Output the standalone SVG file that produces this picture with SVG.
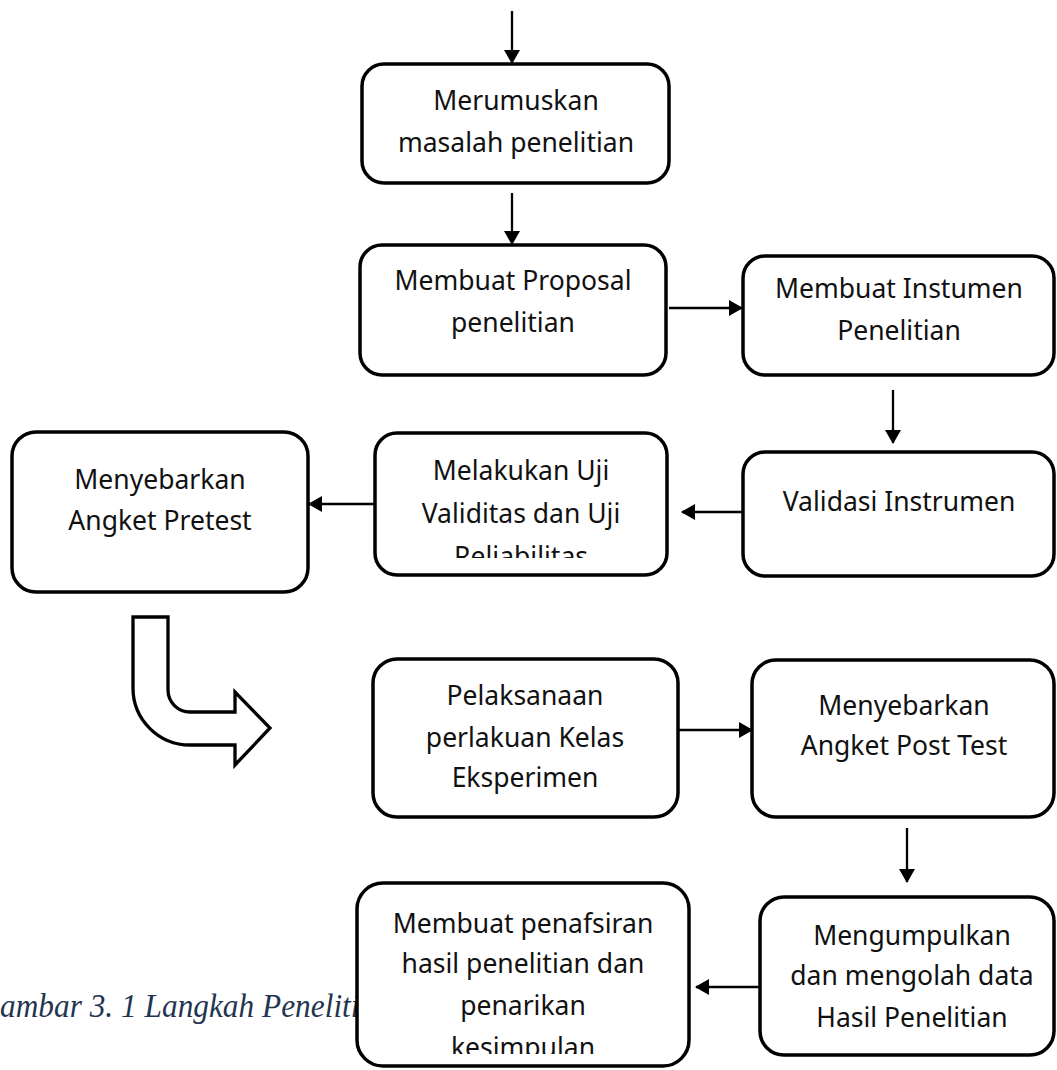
<svg xmlns="http://www.w3.org/2000/svg" width="1057" height="1070" viewBox="0 0 1057 1070">
<style>
.box{fill:#fff;stroke:#000;stroke-width:3.5}
.t{font-family:"Noto Sans","Open Sans",sans-serif;font-size:26.5px;fill:#111;text-anchor:middle}
.c{stroke:#000;stroke-width:2.3;fill:none;marker-end:url(#ah)}
.cap{font-family:"Liberation Serif","Times New Roman",serif;font-style:italic;font-size:33px;fill:#1f3550}
</style>
<defs>
<marker id="ah" viewBox="0 0 14 16" refX="13" refY="8" markerWidth="14" markerHeight="16" markerUnits="userSpaceOnUse" orient="auto">
<path d="M0,0 L14,8 L0,16 Z" fill="#000"/>
</marker>
<clipPath id="clipMel"><rect x="375" y="433" width="292" height="125"/></clipPath>
<clipPath id="clipPen"><rect x="357" y="883" width="332" height="171"/></clipPath>
</defs>
<rect width="1057" height="1070" fill="#fff"/>
<text class="cap" transform="scale(0.95,1)" x="-23.8" y="1017">Gambar 3. 1 Langkah Penelitian</text>
<g id="connectors">
<line class="c" x1="512" y1="11" x2="512" y2="63"/>
<line class="c" x1="512" y1="193" x2="512" y2="244"/>
<line class="c" x1="669" y1="308" x2="742" y2="308"/>
<line class="c" x1="893" y1="390" x2="893" y2="443"/>
<line class="c" x1="743" y1="512" x2="682" y2="512"/>
<line class="c" x1="375" y1="504" x2="309" y2="504"/>
<line class="c" x1="678" y1="730" x2="752" y2="730"/>
<line class="c" x1="907" y1="828" x2="907" y2="882"/>
<line class="c" x1="760" y1="987" x2="696" y2="987"/>
</g>
<g id="bendArrow">
<path d="M133,617 L168,617 L168,690 A22,22 0 0 0 190,712 L235,712 L235,692 L270,728 L235,765 L235,745 L190,745 A57,57 0 0 1 133,688 Z" fill="#fff" stroke="#000" stroke-width="3.3"/>
</g>
<g id="n1">
<rect class="box" x="362" y="64" width="307" height="119" rx="22"/>
<text class="t" x="516" y="110">Merumuskan</text>
<text class="t" x="516" y="152">masalah penelitian</text>
</g>
<g id="n2">
<rect class="box" x="360" y="245" width="306" height="130" rx="22"/>
<text class="t" x="513" y="290">Membuat Proposal</text>
<text class="t" x="513" y="332">penelitian</text>
</g>
<g id="n3">
<rect class="box" x="743" y="256" width="311" height="119" rx="22"/>
<text class="t" x="899" y="298">Membuat Instumen</text>
<text class="t" x="899" y="340">Penelitian</text>
</g>
<g id="n4">
<rect class="box" x="743" y="452" width="311" height="124" rx="22"/>
<text class="t" x="899" y="511">Validasi Instrumen</text>
</g>
<g id="n5">
<rect class="box" x="375" y="433" width="292" height="142" rx="22"/>
<g clip-path="url(#clipMel)">
<text class="t" x="521" y="480">Melakukan Uji</text>
<text class="t" x="521" y="523">Validitas dan Uji</text>
<text class="t" x="521" y="566">Reliabilitas</text>
</g>
</g>
<g id="n6">
<rect class="box" x="12" y="432" width="296" height="160" rx="24"/>
<text class="t" x="160" y="489">Menyebarkan</text>
<text class="t" x="160" y="530">Angket Pretest</text>
</g>
<g id="n7">
<rect class="box" x="373" y="659" width="305" height="158" rx="24"/>
<text class="t" x="525" y="705">Pelaksanaan</text>
<text class="t" x="525" y="747">perlakuan Kelas</text>
<text class="t" x="525" y="787">Eksperimen</text>
</g>
<g id="n8">
<rect class="box" x="752" y="660" width="302" height="157" rx="24"/>
<text class="t" x="904" y="715">Menyebarkan</text>
<text class="t" x="904" y="755">Angket Post Test</text>
</g>
<g id="n9">
<rect class="box" x="760" y="897" width="294" height="158" rx="24"/>
<text class="t" x="912" y="945">Mengumpulkan</text>
<text class="t" x="912" y="985">dan mengolah data</text>
<text class="t" x="912" y="1027">Hasil Penelitian</text>
</g>
<g id="n10">
<rect class="box" x="357" y="883" width="332" height="183" rx="26"/>
<g clip-path="url(#clipPen)">
<text class="t" x="523" y="933">Membuat penafsiran</text>
<text class="t" x="523" y="973">hasil penelitian dan</text>
<text class="t" x="523" y="1015">penarikan</text>
<text class="t" x="523" y="1057">kesimpulan</text>
</g>
</g>
</svg>
